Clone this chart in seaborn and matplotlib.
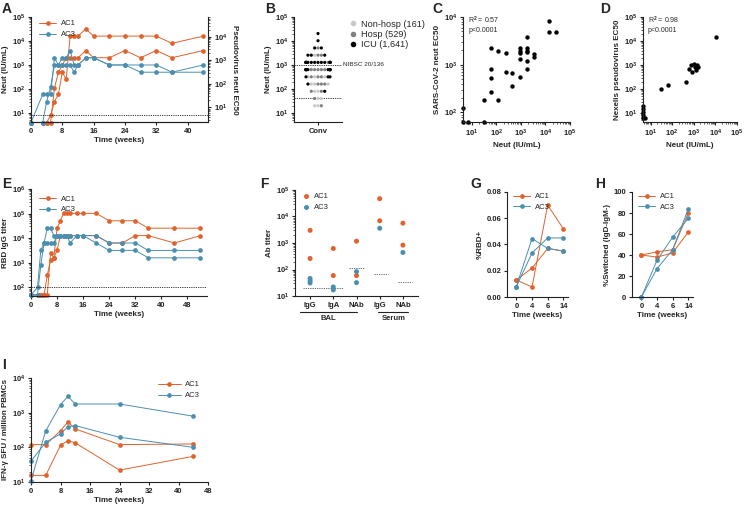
import numpy as np
import pandas as pd
import matplotlib
matplotlib.use("Agg")
import matplotlib.pyplot as plt
import matplotlib.transforms as mtrans
from matplotlib import ticker
from matplotlib.lines import Line2D
import seaborn as sns

# ---------------- data ----------------
# A: neutralisation over time (two series per patient)
a_ac1_hi_wk = [0, 3, 4, 5, 6, 7, 8, 9, 10, 11, 12, 14, 16, 20, 24, 28, 32, 36, 44]
a_ac1_hi = [4, 4, 4, 8, 30, 60, 500, 250, 16000, 16000, 16000, 32000, 16000, 16000, 16000, 16000, 16000, 8000, 16000]
a_ac1_lo_wk = [0, 3, 4, 5, 6, 7, 8, 9, 10, 11, 12, 14, 16, 20, 24, 28, 32, 36, 44]
a_ac1_lo = [4, 4, 4, 4, 110, 500, 1000, 2000, 2000, 2000, 2000, 4000, 2000, 2000, 4000, 2000, 4000, 2000, 4000]
a_ac3_hi_wk = [0, 3, 4, 5, 6, 7, 8, 9, 10, 11, 12, 14, 16, 20, 24, 28, 32, 36, 44]
a_ac3_hi = [4, 60, 60, 60, 2000, 1000, 2000, 2000, 4000, 1000, 1000, 2000, 2000, 1000, 1000, 1000, 1000, 500, 1000]
a_ac3_lo_wk = [0, 3, 4, 5, 6, 7, 8, 9, 10, 11, 12, 14, 16, 20, 24, 28, 32, 36, 44]
a_ac3_lo = [4, 4, 30, 120, 1000, 1000, 1000, 1000, 1000, 500, 1000, 2000, 2000, 1000, 1000, 500, 500, 500, 500]
a_lod = 8

# B: convalescent cohort (visible dots per titre level)
b_levels = [20480, 10240, 5120, 2560, 1280, 640, 320, 160, 80, 40, 20]
b_groups = ["Non-hosp (161)", "Hosp (529)", "ICU (1,641)"]
b_counts_nonhosp = [0, 0, 0, 1, 3, 3, 3, 3, 2, 2, 2]
b_counts_hosp = [0, 0, 1, 2, 6, 6, 3, 3, 2, 1, 1]
b_counts_icu = [1, 1, 2, 3, 12, 10, 3, 1, 1, 0, 0]
b_colors = ["#c8c8c8", "#7f7f7f", "#000000"]
b_nibsc = 1000
b_lod = 42

# C: SARS-CoV-2 neut EC50 vs Neut
c_neut = [4.5, 4.5, 7, 31, 31, 117, 60, 60, 60, 60, 117, 240, 240, 457, 457, 912, 912, 912, 912, 912,
          1820, 1820, 1820, 1820, 1820, 1820, 3470, 3470, 13500, 13500, 26900]
c_ec50 = [123, 63, 63, 63, 178, 178, 263, 537, 794, 2290, 1910, 1740, 692, 661, 355, 562, 1320, 1740, 1950, 2190,
          2190, 1950, 1820, 1200, 832, 3800, 1660, 1480, 8130, 4900, 4790]

# D: Nexelis pseudovirus EC50 vs Neut
d_neut = [4.5, 4.5, 4.5, 4.5, 4.5, 5.5, 32, 63, 450, 630, 710, 800, 1000, 1100, 1300, 1450, 1600, 11000]
d_ec50 = [20, 14, 11, 8, 6, 6, 100, 140, 200, 700, 1000, 500, 1100, 800, 600, 1000, 800, 14000]

# E: RBD IgG titre over time
e_wk = [0, 2, 3, 4, 5, 6, 7, 8, 9, 10, 11, 12, 14, 16, 20, 24, 28, 32, 36, 44, 52]
e_ac1_hi = [50, 50, 50, 50, 320, 1280, 1600, 25600, 51200, 102400, 102400, 102400, 102400, 102400, 102400,
            51200, 51200, 51200, 25600, 25600, 25600]
e_ac1_lo = [50, 50, 50, 50, 50, 2560, 1600, 3200, 12800, 12800, 12800, 12800, 12800, 12800, 12800,
            6400, 6400, 12800, 12800, 6400, 12800]
e_ac3_hi = [50, 100, 3200, 6400, 25600, 25600, 12800, 12800, 12800, 12800, 12800, 6400, 12800, 12800, 6400,
            3200, 3200, 3200, 1600, 1600, 1600]
e_ac3_lo = [50, 50, 800, 6400, 6400, 6400, 6400, 12800, 12800, 12800, 12800, 12800, 12800, 12800, 12800,
            6400, 6400, 6400, 3200, 3200, 3200]
e_lod = 100

# F: antibody titres in BAL and serum
f_order = ["BAL IgG", "BAL IgA", "BAL NAb", "Serum IgG", "Serum NAb"]
f_ticklabels = ["IgG", "IgA", "NAb", "IgG", "NAb"]
f_assay = ["BAL IgG", "BAL IgG", "BAL IgA", "BAL IgA", "BAL NAb", "BAL NAb", "Serum IgG", "Serum IgG",
           "Serum NAb", "Serum NAb",
           "BAL IgG", "BAL IgG", "BAL IgG", "BAL IgA", "BAL IgA", "BAL NAb", "BAL NAb", "Serum IgG", "Serum NAb"]
f_patient = ["AC1"] * 10 + ["AC3"] * 9
f_titer = [3000, 260, 620, 59, 1170, 59, 47000, 6900, 5600, 830,
           46, 38, 31, 22, 17, 83, 32, 3600, 440]
f_lod = {"BAL IgG": 20, "BAL NAb": 110, "Serum IgG": 66, "Serum NAb": 33}

# G / H: B cell phenotypes
gh_weeks = ["0", "4", "6", "14"]
g_ac1_a = [0.013, 0.0076, 0.070, 0.052]
g_ac1_b = [0.013, 0.022, 0.037, 0.035]
g_ac3_a = [0.008, 0.0335, 0.045, 0.045]
g_ac3_b = [0.008, 0.0445, 0.037, 0.035]
h_ac1_a = [40, 38, 42, 62]
h_ac1_b = [40, 43, 45, 80]
h_ac3_a = [0, 27, 45, 84]
h_ac3_b = [0, 35, 57, 75]

# I: IFN-g ELISpot
i_wk = [0, 4, 8, 10, 12, 24, 44]
i_ac1_hi = [120, 120, 300, 540, 340, 120, 125]
i_ac1_lo = [15.5, 15.5, 115, 155, 135, 22, 55]
i_ac3_hi = [11, 300, 1700, 2950, 1780, 1780, 790]
i_ac3_lo = [40, 140, 245, 390, 425, 195, 100]

ORANGE = "#E0622D"
BLUE = "#4B8FB0"
pal = {"AC1": ORANGE, "AC3": BLUE}

# ---------------- style ----------------
sns.set_style("ticks")
plt.rcParams.update({
    "font.family": ["Liberation Sans", "DejaVu Sans"],
    "font.weight": "bold",
    "mathtext.fontset": "custom",
    "mathtext.rm": "Liberation Sans",
    "mathtext.bf": "Liberation Sans:bold",
    "axes.linewidth": 0.8,
    "axes.edgecolor": "#222222",
    "xtick.color": "#222222",
    "ytick.color": "#222222",
    "xtick.major.width": 0.8, "ytick.major.width": 0.8,
    "xtick.major.size": 2.5, "ytick.major.size": 2.5,
    "xtick.minor.width": 0.5, "ytick.minor.width": 0.5,
    "xtick.minor.size": 1.3, "ytick.minor.size": 1.3,
    "xtick.labelsize": 5.5, "ytick.labelsize": 5.5,
    "xtick.major.pad": 1.5, "ytick.major.pad": 1.5,
    "axes.labelsize": 5.8, "axes.labelweight": "bold",
    "axes.labelpad": 2,
})

W, H = 747, 511
fig = plt.figure(figsize=(W / 100, H / 100), dpi=100)


def ax_at(l, t, r, b):
    ax = fig.add_axes([l / W, 1 - b / H, (r - l) / W, (b - t) / H])
    sns.despine(ax=ax)
    return ax


def letter(x, y, s):
    fig.text(x / W, 1 - y / H, s, fontsize=10, fontweight="bold", va="top", ha="left")


def pow_fmt(v, p):
    return r"$\mathbf{10^{%d}}$" % int(round(np.log10(v)))


def log_axis(axis, major):
    axis.set_major_locator(ticker.FixedLocator(major))
    axis.set_major_formatter(ticker.FuncFormatter(pow_fmt))
    axis.set_minor_locator(ticker.LogLocator(base=10, subs=np.arange(2, 10), numticks=30))
    axis.set_minor_formatter(ticker.NullFormatter())


def long_df(entries):
    rows = []
    for patient, sid, xs, ys in entries:
        for x, y in zip(xs, ys):
            rows.append((patient, sid, x, y))
    return pd.DataFrame(rows, columns=["patient", "series", "x", "y"])


def lines(ax, df):
    sns.lineplot(data=df, x="x", y="y", hue="patient", hue_order=["AC1", "AC3"], units="series",
                 estimator=None, palette=pal, marker="o", markersize=3.4, markeredgewidth=0,
                 linewidth=0.7, ax=ax, clip_on=False, sort=False)


def small_legend(ax, anchor, handlelength=2.2):
    sns.move_legend(ax, "upper left", bbox_to_anchor=anchor, frameon=False, title=None,
                    prop={"size": 5.5, "weight": "normal"}, handlelength=handlelength,
                    handletextpad=0.6, labelspacing=0.45, borderaxespad=0)


dotted = dict(ls=(0, (1.5, 1.2)), color="#222222", lw=0.6)

# ---------------- A ----------------
axA = ax_at(31, 17, 208, 122)
dfA = long_df([("AC1", "a1", a_ac1_hi_wk, a_ac1_hi), ("AC1", "a2", a_ac1_lo_wk, a_ac1_lo),
               ("AC3", "b1", a_ac3_hi_wk, a_ac3_hi), ("AC3", "b2", a_ac3_lo_wk, a_ac3_lo)])
axA.set_yscale("log")
lines(axA, dfA)
axA.axhline(a_lod, **dotted)
axA.set_xlim(0, 45.2)
axA.set_ylim(4.2, 1e5)
log_axis(axA.yaxis, [10, 100, 1e3, 1e4, 1e5])
axA.set_xticks([0, 8, 16, 24, 32, 40])
axA.set_xlabel("Time (weeks)")
axA.set_ylabel("Neut (IU/mL)")
small_legend(axA, (0.03, 1.0))
axA2 = axA.twinx()
axA2.set_yscale("log")
axA2.set_ylim(2.4, 7e4)
log_axis(axA2.yaxis, [10, 100, 1e3, 1e4])
axA2.spines["top"].set_visible(False)
axA2.spines["left"].set_visible(False)
axA2.set_ylabel("Pseudovirus neut EC50", rotation=270, labelpad=8)
letter(2, 2, "A")

# ---------------- B ----------------
axB = ax_at(294, 17, 342, 122)
b_val, b_grp = [], []
for g, cnts in zip(b_groups, [b_counts_nonhosp, b_counts_hosp, b_counts_icu]):
    vals = np.repeat(b_levels, cnts)
    b_val.extend(vals)
    b_grp.extend([g] * len(vals))
dfB = pd.DataFrame({"cohort": "Conv", "neut": b_val, "group": b_grp})
sns.swarmplot(data=dfB, x="cohort", y="neut", hue="group", hue_order=b_groups,
              palette=dict(zip(b_groups, b_colors)), size=2.3, linewidth=0, log_scale=True,
              legend=False, ax=axB, warn_thresh=1)
axB.set_xlim(-0.8, 0.8)
axB.set_ylim(4.2, 1e5)
log_axis(axB.yaxis, [10, 100, 1e3, 1e4, 1e5])
axB.axhline(b_nibsc, **dotted)
axB.axhline(b_lod, **dotted)
trB = mtrans.blended_transform_factory(axB.transAxes, axB.transData)
axB.text(1.03, b_nibsc, "NIBSC 20/136", transform=trB, fontsize=4.6, fontweight="normal", va="center")
axB.set_xlabel("")
axB.set_ylabel("Neut (IU/mL)")
handles = [Line2D([], [], ls="", marker="o", ms=4, mew=0, color=c) for c in b_colors]
axB.legend(handles, b_groups, loc="upper left", bbox_to_anchor=(344 / W, 1 - 16 / H),
           bbox_transform=fig.transFigure, frameon=False, prop={"size": 6.6, "weight": "normal"},
           handletextpad=0.3, labelspacing=0.15, borderaxespad=0, handlelength=1.2)
letter(265, 2, "B")

# ---------------- C ----------------
axC = ax_at(463, 17, 570, 122)
axC.set_xscale("log")
axC.set_yscale("log")
sns.scatterplot(x=c_neut, y=c_ec50, color="black", s=10, linewidth=0, ax=axC, clip_on=False)
axC.set_xlim(10 ** 0.65, 1e5)
axC.set_ylim(63, 1e4)
log_axis(axC.xaxis, [10, 100, 1e3, 1e4, 1e5])
log_axis(axC.yaxis, [100, 1e3, 1e4])
axC.set_xlabel("Neut (IU/mL)")
axC.set_ylabel("SARS-CoV-2 neut EC50")
axC.text(0.05, 0.93, "R$^2$ = 0.57\np<0.0001", transform=axC.transAxes, fontsize=5,
         fontweight="normal", va="center", linespacing=1.3)
letter(432, 2, "C")

# ---------------- D ----------------
axD = ax_at(643, 17, 737, 122)
axD.set_xscale("log")
axD.set_yscale("log")
sns.scatterplot(x=d_neut, y=d_ec50, color="black", s=10, linewidth=0, ax=axD, clip_on=False)
axD.set_xlim(10 ** 0.65, 1e5)
axD.set_ylim(4.2, 1e5)
log_axis(axD.xaxis, [10, 100, 1e3, 1e4, 1e5])
log_axis(axD.yaxis, [10, 100, 1e3, 1e4, 1e5])
axD.set_xlabel("Neut (IU/mL)")
axD.set_ylabel("Nexelis pseudovirus EC50")
axD.text(0.05, 0.93, "R$^2$ = 0.98\np<0.0001", transform=axD.transAxes, fontsize=5,
         fontweight="normal", va="center", linespacing=1.3)
letter(600, 2, "D")

# ---------------- E ----------------
axE = ax_at(31, 189, 207, 296)
dfE = long_df([("AC1", "a1", e_wk, e_ac1_hi), ("AC1", "a2", e_wk, e_ac1_lo),
               ("AC3", "b1", e_wk, e_ac3_hi), ("AC3", "b2", e_wk, e_ac3_lo)])
axE.set_yscale("log")
lines(axE, dfE)
axE.axhline(e_lod, **dotted)
axE.set_xlim(0, 54)
axE.set_ylim(45, 1e6)
log_axis(axE.yaxis, [100, 1e3, 1e4, 1e5, 1e6])
axE.set_xticks([0, 8, 16, 24, 32, 40, 48])
axE.set_xlabel("Time (weeks)")
axE.set_ylabel("RBD IgG titer")
small_legend(axE, (0.03, 0.97))
letter(2, 177, "E")

# ---------------- F ----------------
axF = ax_at(295, 190, 418, 296)
dfF = pd.DataFrame({"assay": f_assay, "patient": f_patient, "titer": f_titer})
sns.stripplot(data=dfF, x="assay", y="titer", hue="patient", hue_order=["AC1", "AC3"], order=f_order,
              palette=pal, jitter=False, size=3.6, linewidth=0, log_scale=True, ax=axF, clip_on=False)
axF.set_xlim(-0.65, 4.65)
axF.set_ylim(10, 1e5)
log_axis(axF.yaxis, [10, 100, 1e3, 1e4, 1e5])
axF.set_xticks(range(len(f_order)))
axF.set_xticklabels(f_ticklabels)
spans = {"BAL IgG": (-0.3, 1.42), "BAL NAb": (1.67, 2.32), "Serum IgG": (2.75, 3.35), "Serum NAb": (3.78, 4.38)}
for k, v in f_lod.items():
    axF.hlines(v, spans[k][0], spans[k][1], linestyles=[(0, (1.5, 1.2))], colors="#555555", lw=0.6)
trF = mtrans.blended_transform_factory(axF.transData, axF.transAxes)
for (x0, x1), name in [((-0.43, 2.0), "BAL"), ((2.92, 4.2), "Serum")]:
    axF.plot([x0, x1], [-0.148, -0.148], transform=trF, color="#222222", lw=0.8, clip_on=False)
    axF.text((x0 + x1) / 2 + (0.0 if name == "BAL" else 0.05), -0.18, name, transform=trF, fontsize=5.5,
             ha="center", va="top")
axF.set_xlabel("")
axF.set_ylabel("Ab titer")
small_legend(axF, (0.03, 1.0), handlelength=1.0)
letter(260, 177, "F")

# ---------------- G ----------------
axG = ax_at(507, 192, 568, 297)
dfG = long_df([("AC1", "a1", gh_weeks, g_ac1_a), ("AC1", "a2", gh_weeks, g_ac1_b),
               ("AC3", "b1", gh_weeks, g_ac3_a), ("AC3", "b2", gh_weeks, g_ac3_b)])
lines(axG, dfG)
axG.set_xlim(-0.6, 3.3)
axG.set_ylim(0, 0.08)
axG.set_yticks([0, 0.02, 0.04, 0.06, 0.08])
axG.yaxis.set_major_formatter(ticker.FormatStrFormatter("%.2f"))
axG.set_xlabel("Time (weeks)")
axG.set_ylabel("%RBD+")
small_legend(axG, (0.05, 1.02))
letter(470, 177, "G")

# ---------------- H ----------------
axH = ax_at(632, 192, 693, 297)
dfH = long_df([("AC1", "a1", gh_weeks, h_ac1_a), ("AC1", "a2", gh_weeks, h_ac1_b),
               ("AC3", "b1", gh_weeks, h_ac3_a), ("AC3", "b2", gh_weeks, h_ac3_b)])
lines(axH, dfH)
axH.set_xlim(-0.6, 3.3)
axH.set_ylim(0, 100)
axH.set_yticks([0, 20, 40, 60, 80, 100])
axH.set_xlabel("Time (weeks)")
axH.set_ylabel("%Switched (IgD-IgM-)")
small_legend(axH, (0.05, 1.02))
letter(595, 177, "H")

# ---------------- I ----------------
axI = ax_at(31, 378, 208, 482)
dfI = long_df([("AC1", "a1", i_wk, i_ac1_hi), ("AC1", "a2", i_wk, i_ac1_lo),
               ("AC3", "b1", i_wk, i_ac3_hi), ("AC3", "b2", i_wk, i_ac3_lo)])
axI.set_yscale("log")
lines(axI, dfI)
axI.set_xlim(0, 48)
axI.set_ylim(10, 1e4)
log_axis(axI.yaxis, [10, 100, 1e3, 1e4])
axI.set_xticks([0, 8, 16, 24, 32, 40, 48])
axI.set_xlabel("Time (weeks)")
axI.set_ylabel("IFN-γ SFU / million PBMCs")
small_legend(axI, (0.7, 1.0), handlelength=3.0)
letter(2, 358, "I")

fig.savefig("out.png", dpi=100)
